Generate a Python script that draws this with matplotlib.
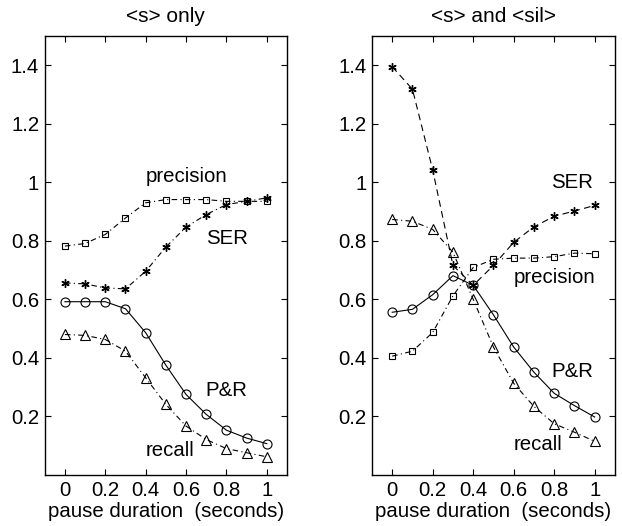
import numpy as np
import matplotlib
matplotlib.use("Agg")
import matplotlib.pyplot as plt

plt.rcParams['font.family'] = ['Liberation Sans', 'DejaVu Sans']

pause = [0, 0.1, 0.2, 0.3, 0.4, 0.5, 0.6, 0.7, 0.8, 0.9, 1.0]

# <s> only
s_precision = [0.782, 0.791, 0.822, 0.878, 0.930, 0.941, 0.941, 0.941, 0.935, 0.935, 0.935]
s_ser = [0.656, 0.653, 0.639, 0.636, 0.696, 0.779, 0.847, 0.890, 0.924, 0.935, 0.947]
s_pr = [0.592, 0.592, 0.592, 0.568, 0.486, 0.375, 0.275, 0.207, 0.153, 0.126, 0.107]
s_recall = [0.480, 0.477, 0.463, 0.423, 0.332, 0.241, 0.167, 0.121, 0.090, 0.076, 0.062]

# <s> and <sil>
ss_precision = [0.406, 0.423, 0.487, 0.612, 0.709, 0.737, 0.741, 0.741, 0.746, 0.758, 0.756]
ss_ser = [1.395, 1.318, 1.042, 0.716, 0.648, 0.716, 0.795, 0.848, 0.884, 0.902, 0.921]
ss_pr = [0.556, 0.566, 0.616, 0.681, 0.648, 0.547, 0.437, 0.351, 0.279, 0.237, 0.198]
ss_recall = [0.873, 0.867, 0.839, 0.761, 0.600, 0.437, 0.313, 0.234, 0.175, 0.146, 0.115]

xticks = [0, 0.2, 0.4, 0.6, 0.8, 1]
xticklabels = ['0', '0.2', '0.4', '0.6', '0.8', '1']
yticks = [0.2, 0.4, 0.6, 0.8, 1.0, 1.2, 1.4]
yticklabels = ['0.2', '0.4', '0.6', '0.8', '1', '1.2', '1.4']

fig = plt.figure(figsize=(6.22, 5.26), dpi=100)
ax1 = fig.add_axes([0.0719, 0.097, 0.3896, 0.8346])
ax2 = fig.add_axes([0.598, 0.097, 0.3907, 0.8346])

lw = 0.8
fs = 14.7
asterisk = (6, 2, 0)


def draw(ax, prec, ser, pr, rec, ser_style):
    ax.plot(pause, prec, linestyle='-.', color='k', lw=lw, marker='s', ms=4.5,
            mfc='none', mec='k', mew=0.8, dashes=(5, 3, 1, 3))
    ser_line, = ax.plot(pause, ser, linestyle=ser_style, color='k', lw=lw,
                        marker=asterisk, ms=6, mec='k', mew=1.0)
    ax.plot(pause, pr, linestyle='-', color='k', lw=lw, marker='o', ms=6.5,
            mfc='none', mec='k', mew=0.8)
    ax.plot(pause, rec, linestyle='-.', color='k', lw=lw, marker='^', ms=7,
            mfc='none', mec='k', mew=0.8, dashes=(5, 3, 1, 3))
    ax.set_xlim(-0.1, 1.1)
    ax.set_ylim(0, 1.5)
    ax.set_xticks(xticks)
    ax.set_xticklabels(xticklabels)
    ax.set_yticks(yticks)
    ax.set_yticklabels(yticklabels)
    ax.tick_params(direction='in', top=True, right=True, labelsize=fs, length=4,
                   width=0.8, pad=4)
    for sp in ax.spines.values():
        sp.set_linewidth(1.0)
    ax.set_xlabel('pause duration  (seconds)', fontsize=fs, labelpad=2)
    return ser_line


l1 = draw(ax1, s_precision, s_ser, s_pr, s_recall, '-.')
l1.set_dashes((5, 3, 1, 3))
l2 = draw(ax2, ss_precision, ss_ser, ss_pr, ss_recall, '--')
l2.set_dashes((6, 4))

ax1.set_title('<s> only', fontsize=15, pad=10)
ax2.set_title('<s> and <sil>', fontsize=15, pad=10)

ax1.text(0.60, 1.02, 'precision', fontsize=fs, ha='center', va='center')
ax1.text(0.80, 0.807, 'SER', fontsize=fs, ha='center', va='center')
ax1.text(0.80, 0.287, 'P&R', fontsize=fs, ha='center', va='center')
ax1.text(0.52, 0.085, 'recall', fontsize=fs, ha='center', va='center')

ax2.text(0.888, 0.998, 'SER', fontsize=fs, ha='center', va='center')
ax2.text(0.80, 0.674, 'precision', fontsize=fs, ha='center', va='center')
ax2.text(0.887, 0.354, 'P&R', fontsize=fs, ha='center', va='center')
ax2.text(0.72, 0.103, 'recall', fontsize=fs, ha='center', va='center')

fig.savefig('out.png', dpi=100)
